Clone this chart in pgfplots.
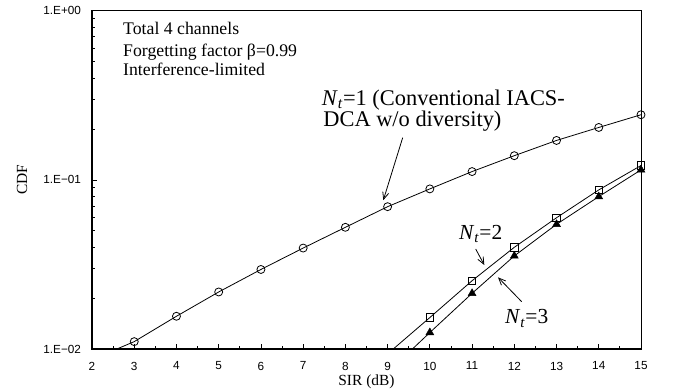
\documentclass[border=0pt]{standalone}
\usepackage{fontspec}
\setmainfont{Liberation Serif}
\newfontfamily\tickfont{Liberation Sans}
\usepackage{pgfplots}
\pgfplotsset{compat=1.18}
\usetikzlibrary{arrows.meta}

\begin{document}
\begin{tikzpicture}
\useasboundingbox (-92bp,-42.7bp) rectangle (584bp,349.3bp);
\begin{axis}[
 scale only axis, width=549bp, height=338.8bp,
 at={(0,0)}, anchor=south west,
 xmin=2, xmax=15, ymin=0.01, ymax=1, ymode=log,
 xtick={2,...,15}, xticklabels={2,3,4,5,6,7,8,9,10,11,12,13,14,15},
 minor x tick num=1,
 ytick={0.01,0.1,1}, yticklabels={1.E−02,1.E−01,1.E+00},
 tick pos=left, tick align=inside,
 major tick length=5bp, minor tick length=3.5bp,
 tick style={line width=0.8bp, black},
 ticklabel style={font=\tickfont\fontsize{11.8}{13}\selectfont},
 xticklabel style={yshift=-9bp},
 yticklabel style={xshift=-7.5bp},
 axis line style={line width=0.8bp},
 xlabel={SIR (dB)}, ylabel={CDF},
 label style={font=\fontsize{15.5}{18}\selectfont},
 xlabel style={at={(axis description cs:0.5,-0.0957)}, anchor=center},
 ylabel style={at={(axis description cs:-0.1275,0.5)}, anchor=center},
]
% lines (including the segment that runs below the axis)
\addplot[black, line width=0.8bp, no marks]
 coordinates {(2,0.0087)(3,0.0111)(4,0.01567)(5,0.0218)(6,0.0296)(7,0.0396)(8,0.0525)(9,0.0695)(10,0.0885)(11,0.112)(12,0.139)(13,0.171)(14,0.204)(15,0.2425)};
\addplot[black, line width=0.8bp, no marks]
 coordinates {(9,0.0094)(10,0.0154)(11,0.0254)(12,0.040)(13,0.0598)(14,0.0873)(15,0.1216)};
\addplot[black, line width=0.8bp, no marks]
 coordinates {(9,0.0073)(10,0.01256)(11,0.0214)(12,0.0356)(13,0.0547)(14,0.0797)(15,0.1146)};
% marks
\addplot[only marks, mark=o, mark size=4bp, mark options={black, fill=white, line width=0.8bp}]
 coordinates {(3,0.0111)(4,0.01567)(5,0.0218)(6,0.0296)(7,0.0396)(8,0.0525)(9,0.0695)(10,0.0885)(11,0.112)(12,0.139)(13,0.171)(14,0.204)(15,0.2425)};
\addplot[only marks, mark=square, mark size=3.8bp, mark options={black, line width=0.8bp}]
 coordinates {(10,0.0154)(11,0.0254)(12,0.040)(13,0.0598)(14,0.0873)(15,0.1216)};
\addplot[only marks, mark=triangle*, mark size=4.6bp, mark options={black, fill=black}]
 coordinates {(10,0.01256)(11,0.0214)(12,0.0356)(13,0.0547)(14,0.0797)(15,0.1146)};

\node[anchor=base west, inner sep=0, font=\fontsize{17.8}{21}\selectfont] at (rel axis cs:0.0565,0.9297) {Total 4 channels};
\node[anchor=base west, inner sep=0, font=\fontsize{17.8}{21}\selectfont] at (rel axis cs:0.0565,0.8657) {Forgetting factor β=0.99};
\node[anchor=base west, inner sep=0, font=\fontsize{17.8}{21}\selectfont] at (rel axis cs:0.0565,0.8067) {Interference-limited};

\node[anchor=base west, inner sep=0, align=left, font=\fontsize{22.5}{21}\selectfont] at (rel axis cs:0.4184,0.657) {\textit{N}\textsubscript{\textit{t}}=1 (Conventional IACS-\\[0pt]\hspace{1.5bp}DCA w/o diversity)};
\node[anchor=base west, inner sep=0, font=\fontsize{21.5}{24}\selectfont] at (rel axis cs:0.6685,0.3247) {\textit{N}\textsubscript{\textit{t}}=2};
\node[anchor=base west, inner sep=0, font=\fontsize{21.5}{24}\selectfont] at (rel axis cs:0.7523,0.0747) {\textit{N}\textsubscript{\textit{t}}=3};

\draw[line width=0.8bp, -{Straight Barb[length=7bp,width=6bp]}] (rel axis cs:0.5659,0.6246) -- (rel axis cs:0.5306,0.4400);
\draw[line width=0.8bp, -{Straight Barb[length=7bp,width=6bp]}] (rel axis cs:0.6989,0.2960) -- (rel axis cs:0.7146,0.2488);
\draw[line width=0.8bp, -{Straight Barb[length=7bp,width=6bp]}] (rel axis cs:0.7827,0.1405) -- (rel axis cs:0.7395,0.2125);
\end{axis}
\draw[line width=1.8bp] (0,338.8bp) -- (0,0) -- (549bp,0);
\end{tikzpicture}
\end{document}
